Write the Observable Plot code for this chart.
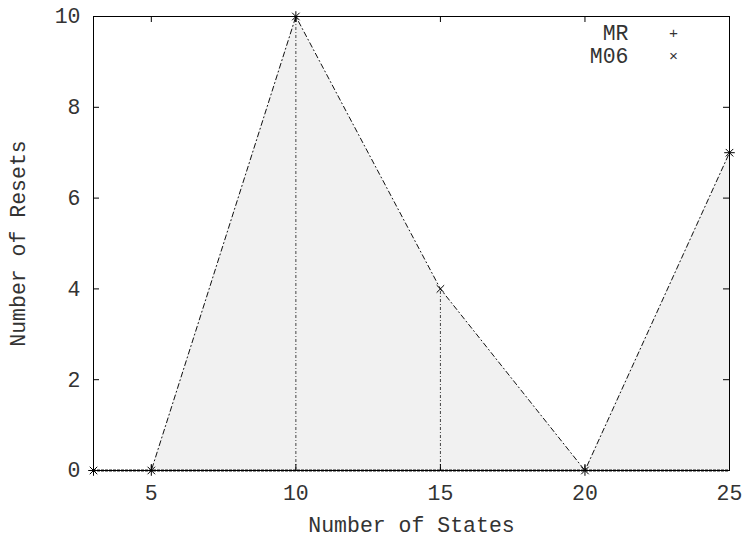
<!DOCTYPE html>
<html>
<head>
<meta charset="utf-8">
<script src="https://cdn.jsdelivr.net/npm/d3@7"></script>
<script src="https://cdn.jsdelivr.net/npm/@observablehq/plot@0.6"></script>
<style>
  html, body { margin: 0; padding: 0; background: #fff; }
  #chart svg { display: block; }
</style>
</head>
<body>
<div id="chart"></div>
<script>
const states = [3, 5, 10, 15, 20, 25];
const m06 = [0, 0, 10, 4, 0, 7];
const mrStates = [3, 5, 10, 20, 25];
const mr = [0, 0, 10, 0, 7];
const dropStates = [10, 15];
const xTicks = [5, 10, 15, 20, 25];
const yTicks = [0, 2, 4, 6, 8, 10];
const legendNames = ["MR", "M06"];
const legendSymbols = ["+", "×"];

const m06Data = states.map((s, i) => ({x: s, y: m06[i]}));
const mrData = mrStates.map((s, i) => ({x: s, y: mr[i]}));
const dropData = m06Data.filter(d => dropStates.includes(d.x));

const W = 751, H = 539, mL = 93, mR = 22, mT = 16, mB = 69;
const pw = W - mL - mR, ph = H - mT - mB;
const font = "'Liberation Mono', 'DejaVu Sans Mono', monospace";
const txt = "#333";

const legendMarks = legendNames.flatMap((n, i) => [
  Plot.text([n], {frameAnchor: "top-right", dx: -101, dy: 17 + i * 22.5, textAnchor: "end", lineAnchor: "middle", fill: txt}),
  Plot.text([legendSymbols[i]], {frameAnchor: "top-right", dx: -56, dy: 17 + i * 22.5, textAnchor: "middle", lineAnchor: "middle", fill: txt, fontSize: 15})
]);

const chart = Plot.plot({
  width: W, height: H,
  marginLeft: mL, marginRight: mR, marginTop: mT, marginBottom: mB,
  x: {domain: [3, 25], axis: null},
  y: {domain: [0, 10], axis: null},
  style: {fontFamily: font, fontSize: "21.5px", color: txt, background: "#fff"},
  marks: [
    Plot.areaY(m06Data, {x: "x", y: "y", fill: "#f1f1f1"}),
    Plot.ruleX(dropData, {x: "x", y1: 0, y2: "y", stroke: "#444", strokeWidth: 1, strokeDasharray: "3,2,1,2"}),
    Plot.line(m06Data, {x: "x", y: "y", stroke: "#111", strokeWidth: 1, strokeDasharray: "5,3,1,3"}),
    Plot.ruleY([0], {stroke: "#222", strokeWidth: 2, strokeDasharray: "3,1"}),
    Plot.frame({stroke: "#000", strokeWidth: 1}),
    Plot.tickX(xTicks, {x: d => d, insetTop: ph - 6, stroke: "#000"}),
    Plot.tickX(xTicks, {x: d => d, insetBottom: ph - 6, stroke: "#000"}),
    Plot.tickY(yTicks, {y: d => d, insetRight: pw - 6, stroke: "#000"}),
    Plot.tickY(yTicks, {y: d => d, insetLeft: pw - 6, stroke: "#000"}),
    Plot.dot(mrData, {x: "x", y: "y", symbol: "plus", r: 3.5, stroke: "#000", strokeWidth: 1}),
    Plot.dot(m06Data, {x: "x", y: "y", symbol: "times", r: 3.5, stroke: "#000", strokeWidth: 1}),
    Plot.text(xTicks, {x: d => d, text: d => String(d), frameAnchor: "bottom", dy: 23, lineAnchor: "middle", fill: txt}),
    Plot.text(yTicks, {y: d => d, text: d => String(d), frameAnchor: "left", dx: -13, textAnchor: "end", lineAnchor: "middle", fill: txt}),
    Plot.text(["Number of States"], {frameAnchor: "bottom", dy: 55, lineAnchor: "middle", fill: txt}),
    Plot.text(["Number of Resets"], {frameAnchor: "left", dx: -75, rotate: -90, textAnchor: "middle", lineAnchor: "middle", fill: txt}),
    ...legendMarks
  ]
});

document.getElementById("chart").appendChild(chart);
</script>
</body>
</html>
